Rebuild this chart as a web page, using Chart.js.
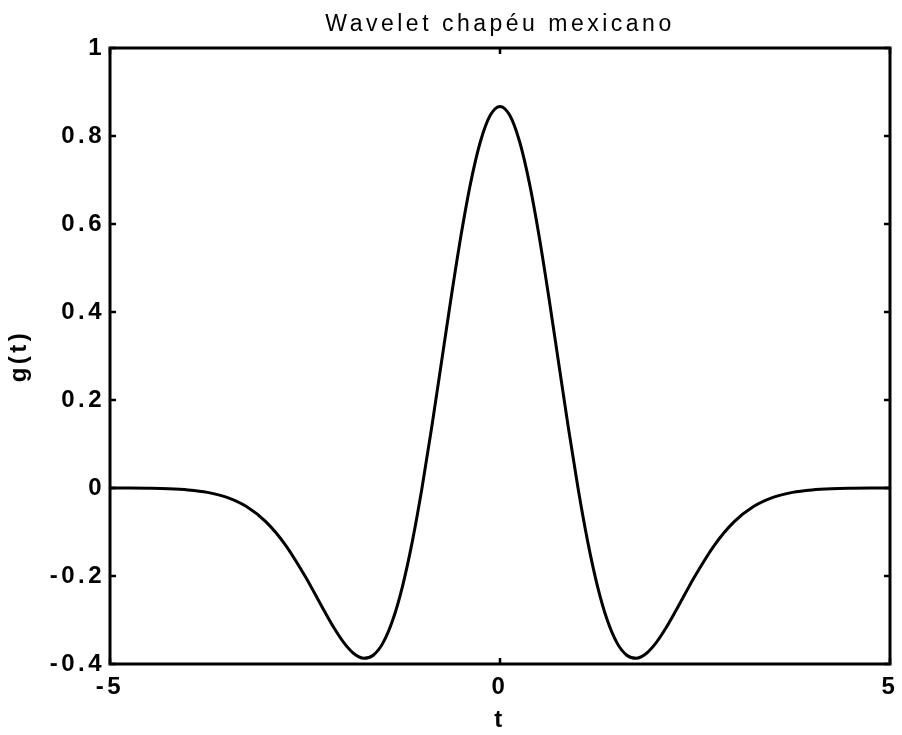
<!DOCTYPE html>
<html>
<head>
<meta charset="utf-8">
<script src="https://cdn.jsdelivr.net/npm/chart.js@4"></script>
<style>
  html, body { margin: 0; padding: 0; background: #fff; }
  #wrap { width: 902px; height: 735px; }
</style>
</head>
<body>
<div id="wrap"><canvas id="wavelet"></canvas></div>
<script>
// valores
var tValues = [-5, -4.75, -4.5, -4.25, -4, -3.75, -3.5, -3.25, -3, -2.75, -2.5,
    -2.375, -2.25, -2.125, -2, -1.875, -1.75, -1.625, -1.5, -1.375, -1.25, -1.125, -1,
    -0.875, -0.75, -0.625, -0.5, -0.375, -0.25, -0.125, 0,
    0.125, 0.25, 0.375, 0.5, 0.625, 0.75, 0.875, 1,
    1.125, 1.25, 1.375, 1.5, 1.625, 1.75, 1.875, 2, 2.125, 2.25, 2.375, 2.5,
    2.75, 3, 3.25, 3.5, 3.75, 4, 4.25, 4.5, 4.75, 5];
var gValues = [-0.0001, -0.0002, -0.0007, -0.0018, -0.0044, -0.0100, -0.0213, -0.0422, -0.0771, -0.1297, -0.2001,
    -0.2398, -0.2803, -0.3189, -0.3521, -0.3762, -0.3869, -0.3800, -0.3520, -0.3001, -0.2234, -0.1224, 0,
    0.1386, 0.2864, 0.4347, 0.5740, 0.6947, 0.7881, 0.8471, 0.8673,
    0.8471, 0.7881, 0.6947, 0.5740, 0.4347, 0.2864, 0.1386, 0,
    -0.1224, -0.2234, -0.3001, -0.3520, -0.3800, -0.3869, -0.3762, -0.3521, -0.3189, -0.2803, -0.2398, -0.2001,
    -0.1297, -0.0771, -0.0422, -0.0213, -0.0100, -0.0044, -0.0018, -0.0007, -0.0002, -0.0001];
var xTicks = [-5, 0, 5];
var yTicks = [-0.4, -0.2, 0, 0.2, 0.4, 0.6, 0.8, 1];

var points = tValues.map(function (t, i) { return { x: t, y: gValues[i] }; });

// texto espacado como no matlab
var spacing = {
    id: 'spacing',
    beforeDraw: function (chart) {
        chart.ctx.letterSpacing = '3.5px';
    }
};

// caixa dos eixos com marcas para dentro
var axesBox = {
    id: 'axesBox',
    afterDatasetsDraw: function (chart) {
        var ctx = chart.ctx;
        var a = chart.chartArea;
        var xs = chart.scales.x, ys = chart.scales.y;
        var len = 6;
        ctx.save();
        ctx.strokeStyle = '#000';
        ctx.lineWidth = 2.5;
        ctx.beginPath();
        yTicks.forEach(function (v) {
            var py = Math.round(ys.getPixelForValue(v));
            ctx.moveTo(a.left, py); ctx.lineTo(a.left + len, py);
            ctx.moveTo(a.right, py); ctx.lineTo(a.right - len, py);
        });
        xTicks.forEach(function (v) {
            var px = Math.round(xs.getPixelForValue(v));
            ctx.moveTo(px, a.bottom); ctx.lineTo(px, a.bottom - len);
            ctx.moveTo(px, a.top); ctx.lineTo(px, a.top + len);
        });
        ctx.stroke();
        ctx.lineWidth = 3;
        ctx.strokeRect(a.left, a.top, a.right - a.left, a.bottom - a.top);
        ctx.restore();
    }
};

var boldFont = { family: "'Liberation Sans', Arial, sans-serif", size: 24, weight: 'bold' };

var ctx = document.getElementById('wavelet').getContext('2d');
var chart = new Chart(ctx, {
    type: 'line',
    data: {
        datasets: [{
            data: points,
            borderColor: '#000',
            borderWidth: 3,
            pointRadius: 0,
            fill: false,
            cubicInterpolationMode: 'monotone'
        }]
    },
    options: {
        responsive: true,
        maintainAspectRatio: false,
        animation: false,
        layout: { padding: { top: 0, right: 12, bottom: 0, left: 0 } },
        plugins: {
            legend: { display: false },
            tooltip: { enabled: false },
            title: {
                display: true,
                fullSize: false,
                text: 'Wavelet chapéu mexicano',
                color: '#000',
                font: { family: "'Liberation Sans', Arial, sans-serif", size: 23, weight: 'normal' },
                padding: { top: 10.5, bottom: 9.9 }
            }
        },
        scales: {
            x: {
                type: 'linear',
                min: -5,
                max: 5,
                grid: { display: false, drawTicks: true, tickLength: 8 },
                border: { display: false },
                afterBuildTicks: function (scale) {
                    scale.ticks = xTicks.map(function (v) { return { value: v }; });
                },
                afterFit: function (scale) { scale.height = 71; },
                ticks: {
                    color: '#000',
                    font: boldFont,
                    padding: 1,
                    maxRotation: 0
                },
                title: {
                    display: true,
                    text: 't',
                    color: '#000',
                    font: boldFont,
                    padding: { top: 0, bottom: 0 }
                }
            },
            y: {
                min: -0.4,
                max: 1,
                grid: { display: false, drawTicks: false },
                border: { display: false },
                afterBuildTicks: function (scale) {
                    scale.ticks = yTicks.map(function (v) { return { value: v }; });
                },
                afterFit: function (scale) { scale.width = 110; },
                ticks: {
                    color: '#000',
                    font: boldFont,
                    padding: 5,
                    callback: function (v) { return String(Math.round(v * 10) / 10); }
                },
                title: {
                    display: true,
                    text: 'g(t)',
                    color: '#000',
                    font: boldFont,
                    padding: { top: 5, bottom: 0 }
                }
            }
        }
    },
    plugins: [spacing, axesBox]
});
</script>
</body>
</html>
